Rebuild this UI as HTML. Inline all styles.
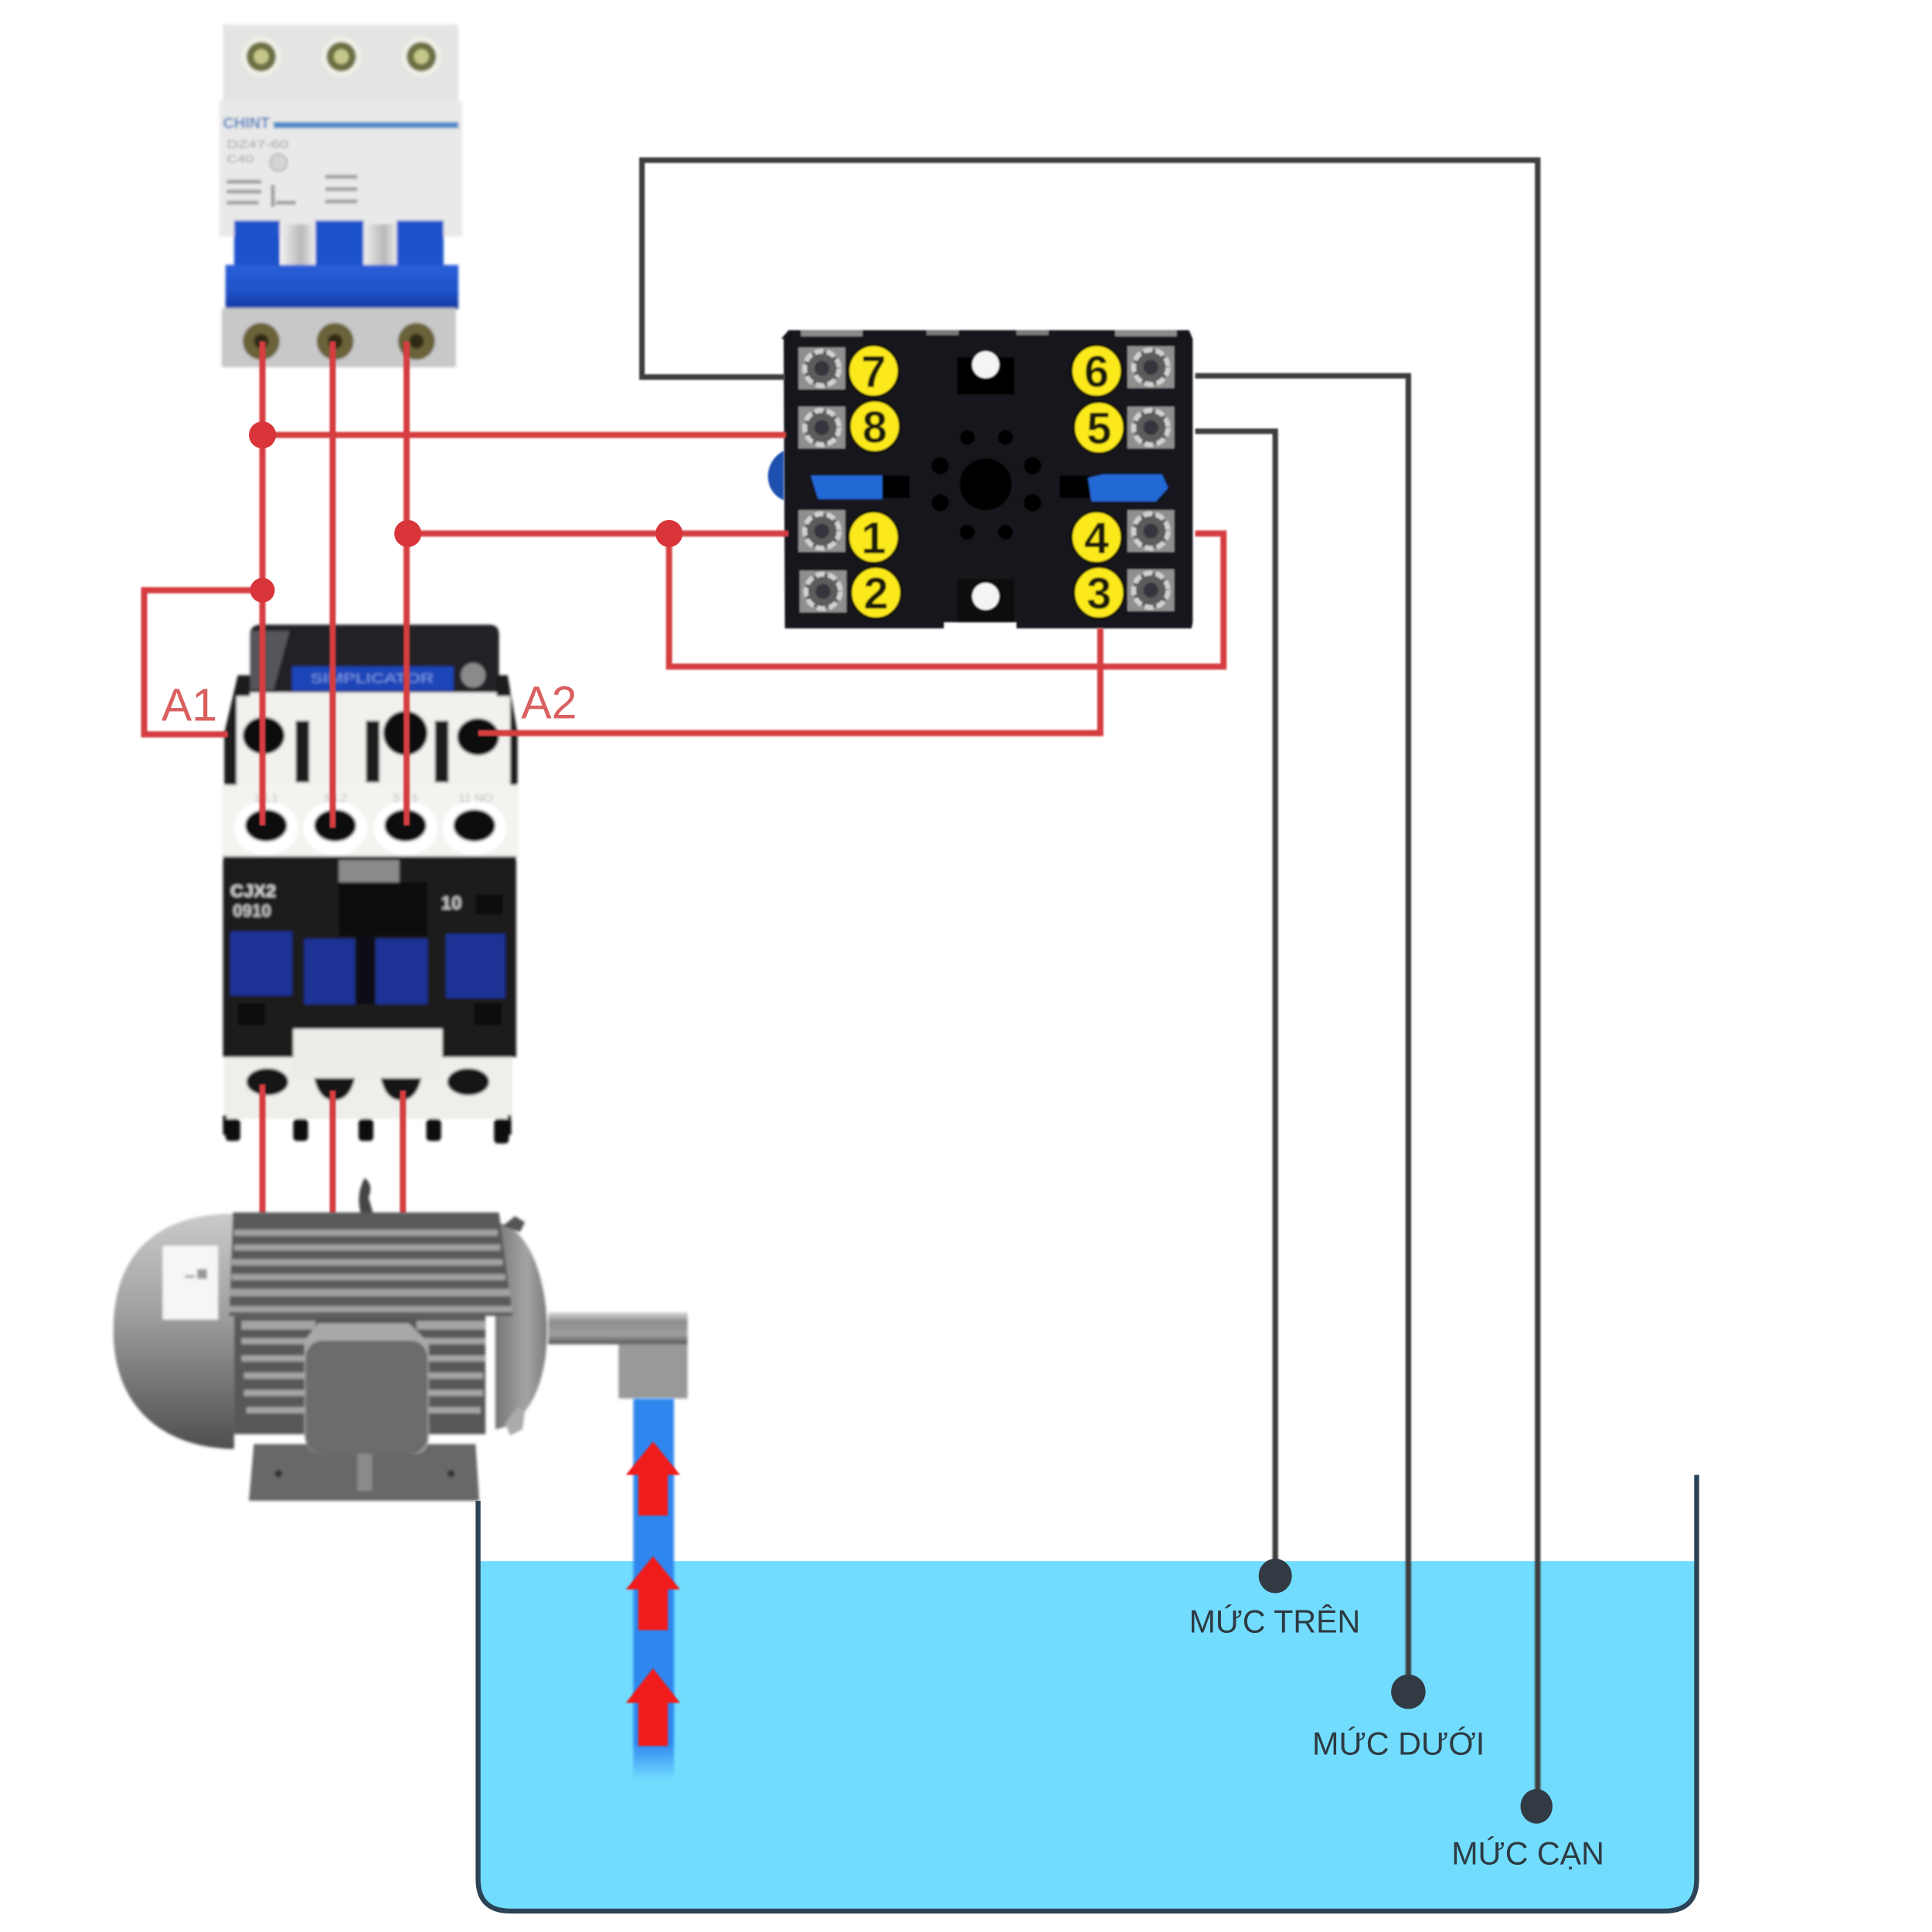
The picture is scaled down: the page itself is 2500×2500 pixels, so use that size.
<!DOCTYPE html>
<html lang="vi"><head><meta charset="utf-8"><title>Sơ đồ</title>
<style>html,body{margin:0;padding:0;background:#fff}svg{display:block}</style></head>
<body>
<svg xmlns="http://www.w3.org/2000/svg" width="2500" height="2500" viewBox="0 0 1568 1568" font-family="'Liberation Sans',sans-serif">
<defs>
<filter id="b" x="-5%" y="-5%" width="110%" height="110%"><feGaussianBlur stdDeviation="1.2"/></filter>
<filter id="b2" x="-5%" y="-5%" width="110%" height="110%"><feGaussianBlur stdDeviation="0.6"/></filter>
<linearGradient id="bell" x1="0" y1="0" x2="0" y2="1"><stop offset="0" stop-color="#cacaca"/><stop offset=".4" stop-color="#a2a2a2"/><stop offset="1" stop-color="#4e4e4e"/></linearGradient>
<linearGradient id="end" x1="0" y1="0" x2="1" y2="0"><stop offset="0" stop-color="#777"/><stop offset=".6" stop-color="#a4a4a4"/><stop offset="1" stop-color="#7d7d7d"/></linearGradient>
<linearGradient id="shaft" x1="0" y1="0" x2="0" y2="1"><stop offset="0" stop-color="#d8d8d8"/><stop offset=".3" stop-color="#8c8c8c"/><stop offset=".7" stop-color="#a0a0a0"/><stop offset="1" stop-color="#555"/></linearGradient>
<linearGradient id="pipe" x1="0" y1="0" x2="0" y2="1"><stop offset="0" stop-color="#2f86ee"/><stop offset=".9" stop-color="#2f86ee"/><stop offset="1" stop-color="#2f86ee" stop-opacity="0"/></linearGradient>
<linearGradient id="hdl" x1="0" y1="0" x2="0" y2="1"><stop offset="0" stop-color="#2a5fd8"/><stop offset=".6" stop-color="#1f52c8"/><stop offset="1" stop-color="#1238a0"/></linearGradient>
<linearGradient id="gap" x1="0" y1="0" x2="1" y2="0"><stop offset="0" stop-color="#f0f0f0"/><stop offset=".6" stop-color="#b8b8b8"/><stop offset="1" stop-color="#f0f0f0"/></linearGradient>
<g id="t"><rect x="-19" y="-17" width="38" height="34" fill="#8f8f8f"/><circle r="14" fill="#5c5c5c" stroke="#d0d0d0" stroke-width="4" stroke-dasharray="7 3"/><circle r="6" fill="#34343c"/></g>
</defs>

<rect width="1568" height="1568" fill="#fff"/>

<!-- breaker -->
<g filter="url(#b)">
<rect x="181" y="20" width="191" height="62" fill="#e3e5e3"/>
<rect x="178" y="82" width="197" height="110" fill="#e8e9e8"/>
<g fill="#efefe6"><circle cx="212" cy="46" r="16"/><circle cx="277" cy="46" r="16"/><circle cx="342" cy="46" r="16"/></g>
<g fill="#6d6f42"><circle cx="212" cy="46" r="12"/><circle cx="277" cy="46" r="12"/><circle cx="342" cy="46" r="12"/></g>
<g fill="#c5c88a"><circle cx="212" cy="46" r="6"/><circle cx="277" cy="46" r="6"/><circle cx="342" cy="46" r="6"/></g>
<text x="181" y="104" font-size="13" font-weight="bold" fill="#3f7ec0" textLength="38" lengthAdjust="spacingAndGlyphs">CHINT</text>
<rect x="222" y="99" width="150" height="5" fill="#4a8ac4"/>
<g fill="#9b9b9b" font-size="9"><text x="184" y="120" textLength="50" lengthAdjust="spacingAndGlyphs">DZ47-60</text><text x="184" y="132" textLength="22" lengthAdjust="spacingAndGlyphs">C40</text></g>
<circle cx="226" cy="132" r="7" fill="#d4d4d4" stroke="#aaa"/>
<g fill="#9a9a9a"><rect x="184" y="146" width="28" height="3"/><rect x="184" y="154" width="28" height="3"/><rect x="184" y="163" width="26" height="3"/><rect x="220" y="150" width="3" height="18"/><rect x="224" y="163" width="16" height="3"/><rect x="264" y="142" width="26" height="3"/><rect x="264" y="152" width="26" height="3"/><rect x="264" y="162" width="26" height="3"/></g>
<rect x="228" y="182" width="28" height="35" fill="url(#gap)"/><rect x="295" y="182" width="28" height="35" fill="url(#gap)"/>
<rect x="190" y="179" width="37" height="40" fill="#1f52cc"/><rect x="256" y="179" width="39" height="40" fill="#1f52cc"/><rect x="322" y="179" width="38" height="40" fill="#1f52cc"/>
<rect x="183" y="215" width="189" height="36" fill="url(#hdl)"/>
<rect x="180" y="250" width="190" height="48" fill="#c8c8c8"/>
<g fill="#6b6238"><circle cx="212" cy="277" r="15"/><circle cx="272" cy="277" r="15"/><circle cx="338" cy="277" r="15"/></g>
<g fill="#2e2a18"><circle cx="212" cy="277" r="6"/><circle cx="272" cy="277" r="6"/><circle cx="338" cy="277" r="6"/></g>
</g>

<!-- relay socket -->
<g filter="url(#b2)">
<path d="M634 275L640 268H965L968 275V505L967 510H825V505H766V510H637L636 275Z" fill="#15171a"/>
<rect x="650" y="268" width="50" height="5" fill="#8a8a88"/><rect x="905" y="268" width="50" height="5" fill="#8a8a88"/><rect x="752" y="268" width="26" height="4" fill="#7a7a78"/><rect x="825" y="268" width="26" height="4" fill="#7a7a78"/>
<path d="M636 366C620 374 618 398 636 406Z" fill="#1d4fae"/>
<use href="#t" x="667" y="299"/><use href="#t" x="667" y="347"/><use href="#t" x="667" y="431"/><use href="#t" x="668" y="480"/>
<use href="#t" x="934" y="298"/><use href="#t" x="934" y="347"/><use href="#t" x="934" y="431"/><use href="#t" x="934" y="479"/>
<rect x="716" y="386" width="22" height="18" fill="#050505"/><rect x="860" y="386" width="24" height="18" fill="#050505"/>
<path d="M658 386H716V405H664Z" fill="#2369d6"/><path d="M883 388L895 385H943L948 396L938 407H886Z" fill="#2369d6"/>
<rect x="777" y="290" width="46" height="30" fill="#050505"/><rect x="777" y="470" width="46" height="35" fill="#0c0c0c"/>
<circle cx="800" cy="296" r="11" fill="#f4f4f4"/><circle cx="800" cy="484" r="11" fill="#f4f4f4"/>
<circle cx="800" cy="393" r="21" fill="#050505"/>
<g fill="#050505"><circle cx="785" cy="355" r="6"/><circle cx="816" cy="355" r="6"/><circle cx="763" cy="378" r="7"/><circle cx="838" cy="378" r="7"/><circle cx="763" cy="408" r="7"/><circle cx="838" cy="408" r="7"/><circle cx="785" cy="432" r="6"/><circle cx="816" cy="432" r="6"/></g>
<g fill="#fbe91c" stroke="#0a0a0a" stroke-width="2"><ellipse cx="709" cy="301" rx="20.5" ry="21"/><ellipse cx="710" cy="346" rx="20.5" ry="21"/><ellipse cx="709" cy="436" rx="20.5" ry="21"/><ellipse cx="711" cy="481" rx="20.5" ry="21"/><ellipse cx="890" cy="301" rx="20.5" ry="21"/><ellipse cx="892" cy="347" rx="20.5" ry="21"/><ellipse cx="890" cy="436" rx="20.5" ry="21"/><ellipse cx="892" cy="481" rx="20.5" ry="21"/></g>
<g font-size="36" font-weight="bold" fill="#1b1a08" text-anchor="middle"><text x="709" y="314">7</text><text x="710" y="359">8</text><text x="709" y="449">1</text><text x="711" y="494">2</text><text x="890" y="314">6</text><text x="892" y="360">5</text><text x="890" y="449">4</text><text x="892" y="494">3</text></g>
</g>

<!-- contactor -->
<g filter="url(#b)">
<path d="M203 515Q203 507 212 507H397Q405 507 405 515V565H203Z" fill="#222227"/>
<path d="M203 512H235L222 560H203Z" fill="#55555a"/>
<rect x="237" y="541" width="131" height="20" fill="#1a44b8"/>
<text x="302" y="554" font-size="11" fill="#7a9ae6" text-anchor="middle" textLength="100" lengthAdjust="spacingAndGlyphs">SIMPLICATOR</text>
<circle cx="384" cy="548" r="10" fill="#8a8a8a"/>
<rect x="190" y="562" width="225" height="76" fill="#f1f1ee"/>
<path d="M182 640V595L193 548H203V565H192V640Z" fill="#1c1c1c"/><path d="M420 640V595L412 548H403V565H414V640Z" fill="#1c1c1c"/>
<g fill="#1d1d1d"><rect x="240" y="585" width="11" height="50"/><rect x="297" y="585" width="11" height="50"/><rect x="353" y="585" width="11" height="50"/></g>
<ellipse cx="214" cy="597" rx="17" ry="15" fill="#111"/><ellipse cx="329" cy="595" rx="18" ry="18" fill="#111"/><ellipse cx="388" cy="598" rx="17" ry="15" fill="#111"/>
<rect x="180" y="637" width="241" height="60" fill="#f3f3f0"/>
<g fill="#fff"><ellipse cx="216" cy="672" rx="26" ry="22"/><ellipse cx="272" cy="672" rx="26" ry="22"/><ellipse cx="329" cy="672" rx="26" ry="22"/><ellipse cx="385" cy="672" rx="26" ry="22"/></g>
<g fill="#0f0f0f"><ellipse cx="216" cy="670" rx="17" ry="13"/><ellipse cx="272" cy="670" rx="17" ry="13"/><ellipse cx="329" cy="670" rx="17" ry="13"/><ellipse cx="385" cy="670" rx="17" ry="13"/></g>
<g font-size="10" fill="#bdbdbd" text-anchor="middle"><text x="216" y="651">1 L1</text><text x="272" y="651">3 L2</text><text x="329" y="651">5 L3</text><text x="386" y="651">11 NO</text></g>
<rect x="181" y="695" width="238" height="163" fill="#1b1b1d"/>
<rect x="275" y="698" width="49" height="18" fill="#8a8a8a"/>
<rect x="275" y="716" width="72" height="44" fill="#0d0d0d"/>
<text x="187" y="728" font-size="14" font-weight="bold" fill="#d8d8d8" textLength="37" lengthAdjust="spacingAndGlyphs">CJX2</text>
<text x="189" y="744" font-size="14" font-weight="bold" fill="#c8c8c8" textLength="31" lengthAdjust="spacingAndGlyphs">0910</text>
<text x="358" y="738" font-size="15" font-weight="bold" fill="#c8c8c8">10</text>
<rect x="386" y="726" width="22" height="16" fill="#0a0a0a"/>
<g fill="#1c3195"><rect x="187" y="756" width="50" height="52"/><rect x="247" y="762" width="41" height="53"/><rect x="305" y="762" width="42" height="53"/><rect x="362" y="758" width="48" height="52"/></g>
<rect x="289" y="760" width="15" height="55" fill="#101018"/>
<rect x="193" y="814" width="22" height="18" fill="#0a0a0a"/><rect x="385" y="814" width="22" height="18" fill="#0a0a0a"/>
<rect x="182" y="858" width="234" height="50" fill="#eeeeea"/>
<rect x="238" y="835" width="121" height="40" fill="#ecece8"/>
<ellipse cx="217" cy="878" rx="17" ry="11" fill="#151515"/><path d="M255 875H288Q284 893 271 893Q259 893 255 875Z" fill="#151515"/><path d="M309 875H342Q338 893 325 893Q313 893 309 875Z" fill="#151515"/><ellipse cx="380" cy="878" rx="17" ry="11" fill="#151515"/>
<g fill="#111"><rect x="181" y="905" width="3" height="16"/><rect x="412" y="905" width="3" height="16"/><rect x="183" y="908" width="12" height="18" rx="3"/><rect x="238" y="908" width="12" height="18" rx="3"/><rect x="291" y="908" width="12" height="18" rx="3"/><rect x="346" y="908" width="12" height="18" rx="3"/><rect x="401" y="908" width="12" height="20" rx="3"/></g>
</g>

<!-- tank -->
<path d="M388 1267H1377V1525Q1377 1550 1352 1550H413Q388 1550 388 1525Z" fill="#72dcff"/>
<path d="M388 1218V1525Q388 1551 414 1551H1351Q1377 1551 1377 1525V1197" fill="none" stroke="#2b4356" stroke-width="4"/>

<!-- red wires -->
<g fill="none" stroke="#d63c40" stroke-width="5" filter="url(#b2)">
<path d="M213 277V670M270 277V672M330 277V670"/>
<path d="M213 880V985M270 885V985M327 885V985"/>
<path d="M213 353H638"/>
<path d="M330 433H640"/>
<path d="M543 433V541H993V433H970"/>
<path d="M893 510V595H388"/>
<path d="M213 479H117V596H185"/>
</g>
<g fill="#d8343a"><circle cx="213" cy="353" r="11"/><circle cx="331" cy="433" r="11"/><circle cx="543" cy="433" r="11"/><circle cx="213" cy="479" r="10"/></g>
<g font-size="37" fill="#d9605f"><text x="131" y="585">A1</text><text x="423" y="583">A2</text></g>

<!-- motor -->
<g filter="url(#b)">
<path d="M293 985C290 975 291 965 296 956C301 960 302 965 299 972L303 985Z" fill="#444"/>
<path d="M190 985C130 985 92 1015 92 1080C92 1140 130 1175 190 1176Z" fill="url(#bell)"/>
<rect x="132" y="1011" width="45" height="60" fill="#f6f6f6"/>
<g fill="#999"><rect x="150" y="1035" width="8" height="2"/><rect x="160" y="1030" width="8" height="8"/></g>
<path d="M402 992C430 995 444 1040 444 1080C444 1120 430 1156 402 1160Z" fill="url(#end)"/>
<path d="M189 984H405L416 1068H186Z" fill="#5a5a5a"/>
<g fill="#a0a0a0"><rect x="190" y="998" width="214" height="5"/><rect x="190" y="1010" width="216" height="5"/><rect x="188" y="1022" width="220" height="5"/><rect x="188" y="1034" width="222" height="5"/><rect x="186" y="1046" width="228" height="6"/><rect x="186" y="1060" width="230" height="5"/></g>
<rect x="190" y="1068" width="204" height="96" fill="#585858"/>
<g fill="#a4a4a4"><rect x="196" y="1072" width="60" height="7"/><rect x="338" y="1072" width="56" height="7"/><rect x="196" y="1086" width="60" height="5"/><rect x="338" y="1086" width="56" height="5"/><rect x="196" y="1100" width="60" height="5"/><rect x="338" y="1100" width="56" height="5"/><rect x="198" y="1114" width="58" height="5"/><rect x="338" y="1114" width="54" height="5"/><rect x="198" y="1128" width="58" height="5"/><rect x="338" y="1128" width="54" height="5"/><rect x="200" y="1142" width="56" height="5"/><rect x="338" y="1142" width="52" height="5"/></g>
<path d="M202 1218L206 1172H386L389 1218Z" fill="#686868"/>
<rect x="290" y="1180" width="12" height="30" fill="#8a8a8a"/>
<circle cx="226" cy="1196" r="3" fill="#333"/><circle cx="366" cy="1196" r="3" fill="#333"/>
<path d="M258 1074H332L348 1090V1165Q348 1180 335 1180H262Q249 1180 247 1165V1088Z" fill="#a8a8a8"/>
<rect x="248" y="1088" width="99" height="92" rx="14" fill="#6c6c6c"/>
<path d="M408 995L418 987L426 992L422 1000Z" fill="#555"/>
<path d="M410 1155L420 1142L426 1145L424 1160L414 1165Z" fill="#aaa"/>
<rect x="445" y="1065" width="113" height="26" fill="url(#shaft)"/>
<rect x="502" y="1091" width="56" height="44" fill="#999"/>
</g>

<!-- pipe -->
<rect x="514" y="1135" width="33" height="310" fill="url(#pipe)" filter="url(#b)"/>
<g fill="#f01b1f" filter="url(#b2)">
<path d="M530 1170L552 1197H542V1230H518V1197H508Z"/>
<path d="M530 1263L552 1290H542V1323H518V1290H508Z"/>
<path d="M530 1354L552 1382H542V1417H518V1382H508Z"/>
</g>

<!-- dark wires -->
<g fill="none" stroke="#3c3c3e" stroke-width="4.5" filter="url(#b2)">
<path d="M637 306H521V130H1248V1465"/>
<path d="M970 305H1143V1373"/>
<path d="M970 350H1035V1278"/>
</g>
<g fill="#323a44"><ellipse cx="1035" cy="1279" rx="13.5" ry="14"/><ellipse cx="1143" cy="1373" rx="14" ry="14"/><ellipse cx="1247" cy="1466" rx="13" ry="14"/></g>

<!-- labels -->
<g font-size="26" fill="#2d3a42">
<text x="965" y="1325" textLength="139" lengthAdjust="spacingAndGlyphs">MỨC TRÊN</text>
<text x="1065" y="1424" textLength="140" lengthAdjust="spacingAndGlyphs">MỨC DƯỚI</text>
<text x="1178" y="1513" textLength="124" lengthAdjust="spacingAndGlyphs">MỨC CẠN</text>
</g>
</svg>
</body></html>
